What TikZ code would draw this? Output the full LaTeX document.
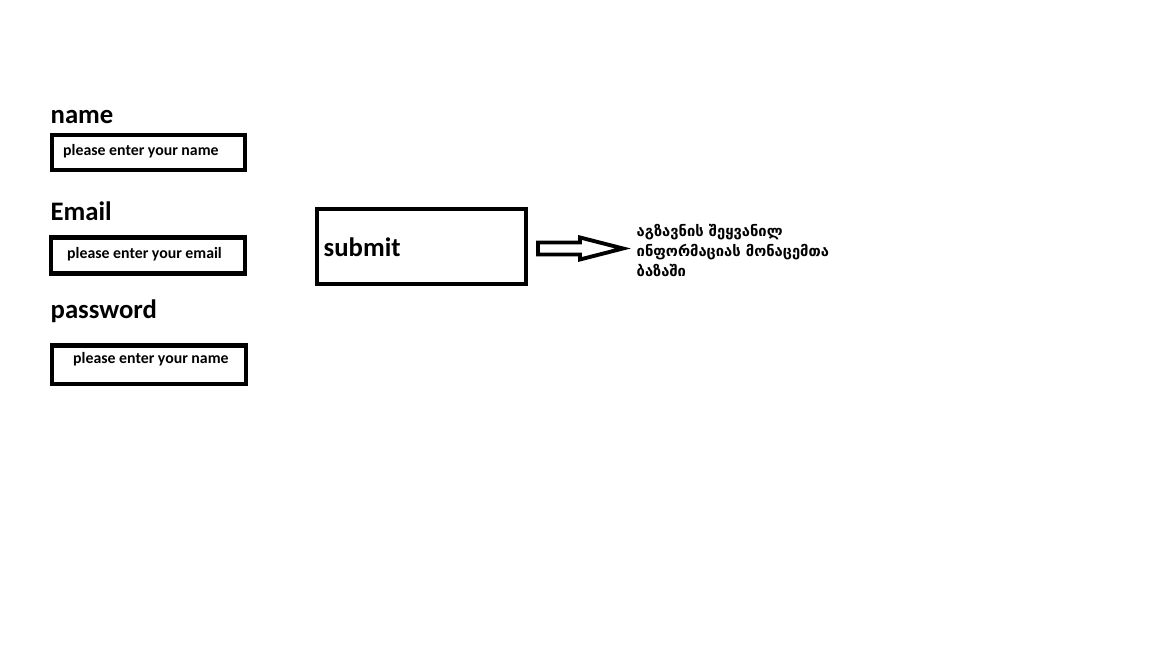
\documentclass[tikz,border=0pt]{standalone}
\usepackage{fontspec}
\setmainfont{Carlito}
\newfontfamily\geofont[Script=Georgian]{DejaVu Sans}
\usetikzlibrary{positioning}

\begin{document}
\begin{tikzpicture}[
    heading/.style={anchor=base west, inner sep=0pt, font=\fontsize{7.6}{9}\selectfont\bfseries},
    field/.style={draw, line width=1.4pt, inner sep=0pt},
    fieldtext/.style={anchor=base west, inner sep=0pt, font=\fontsize{4.5}{5.5}\selectfont\bfseries},
    button/.style={draw, line width=1.15pt, inner sep=0pt, minimum width=2.09cm, minimum height=0.75cm},
    blockarrow/.style={line width=1.1pt, line join=miter}
  ]
  \useasboundingbox (0,0) rectangle (11.52,6.48);

  % form labels
  \node[heading] (namelbl) at (0.50,5.24) {name};
  \node[heading] (emaillbl) at (0.50,4.27) {Email};
  \node[heading] (passlbl) at (0.50,3.29) {password};

  % input fields
  \node[field, minimum width=1.93cm, minimum height=0.35cm] (namebox) at (1.485,4.955) {};
  \node[field, minimum width=1.94cm, minimum height=0.36cm] (emailbox) at (1.48,3.925) {};
  \node[field, minimum width=1.94cm, minimum height=0.385cm] (passbox) at (1.49,2.8325) {};
  \node[fieldtext] (nametxt) at ([xshift=0.13cm,yshift=-0.03cm]namebox.west) {please enter your name};
  \node[fieldtext] (emailtxt) at ([xshift=0.18cm,yshift=-0.03cm]emailbox.west) {please enter your email};
  \node[fieldtext] (passtxt) at ([xshift=0.23cm,yshift=0.015cm]passbox.west) {please enter your name};

  % submit button
  \node[button] (submit) at (4.215,4.015) {};
  \node[heading] (submittxt) at ([xshift=0.08cm,yshift=-0.10cm]submit.west) {submit};

  % result text
  \node[anchor=north west, inner sep=0pt, align=left, font=\geofont\fontsize{4.2}{5.7}\selectfont\bfseries] (result) at (6.36,4.24)
    {აგზავნის შეყვანილ\\ინფორმაციას მონაცემთა\\ბაზაში};

  % arrow
  \coordinate (tail) at ([xshift=0.10cm,yshift=-0.02cm]submit.east);
  \draw[blockarrow] (tail) ++(0,0.06) -- ++(0.42,0) -- ++(0,0.05) -- ++(0.43,-0.11)
    -- ++(-0.43,-0.11) -- ++(0,0.05) -- ++(-0.42,0) -- cycle;
\end{tikzpicture}
\end{document}
